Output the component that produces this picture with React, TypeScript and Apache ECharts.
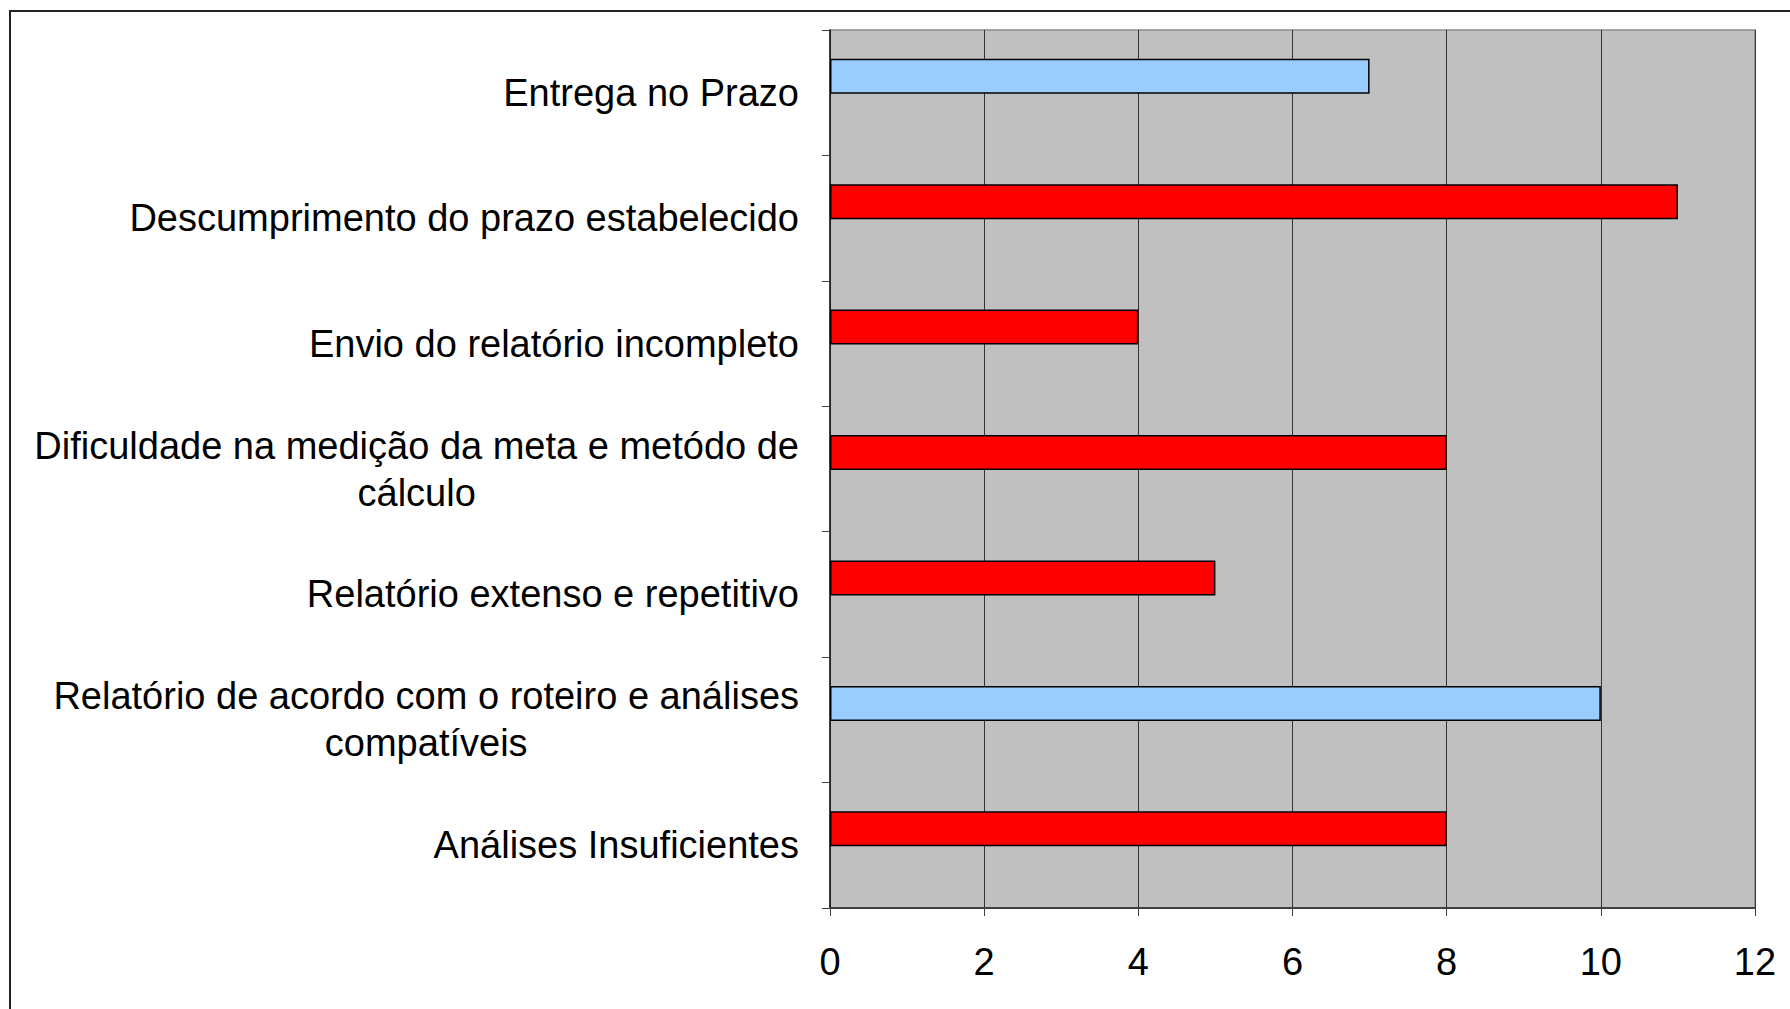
import React, { useEffect, useRef } from 'react';
import * as echarts from 'echarts';

const categories = [
  'Entrega no Prazo',
  'Descumprimento do prazo estabelecido',
  'Envio do relatório incompleto',
  'Dificuldade na medição da meta e metódo de\ncálculo',
  'Relatório extenso e repetitivo',
  'Relatório de acordo com o roteiro e análises\ncompatíveis',
  'Análises Insuficientes',
];
const values = [7, 11, 4, 8, 5, 10, 8];
const barColors = ['#99CCFF', '#FF0000', '#FF0000', '#FF0000', '#FF0000', '#99CCFF', '#FF0000'];
const emptySeries = categories.map(() => null);
const xMin = 0;
const xMax = 12;
const xStep = 2;

const FONT = '"Liberation Sans", Arial, sans-serif';
const FS = 38;
const LH = 47;

function measure(t: string): number {
  const ctx = document.createElement('canvas').getContext('2d');
  if (!ctx) return t.length * FS * 0.5;
  ctx.font = `${FS}px "Liberation Sans"`;
  return ctx.measureText(t).width;
}

export default function App() {
  const ref = useRef<HTMLDivElement>(null);
  useEffect(() => {
    if (!ref.current) return;
    const chart = echarts.init(ref.current, undefined, { renderer: 'svg' });
    const rich: Record<string, any> = {};
    categories.forEach((c, i) => {
      if (c.includes('\n')) {
        const lines = c.split('\n');
        const w = Math.max(...lines.map(measure));
        rich[`m${i}`] = {
          width: w,
          align: 'center',
          fontSize: FS,
          fontFamily: FONT,
          lineHeight: LH,
          color: '#000',
        };
      }
    });
    chart.setOption({
      animation: false,
      backgroundColor: '#ffffff',
      grid: {
        left: 830,
        top: 30,
        right: 35,
        bottom: 101,
        show: true,
        backgroundColor: '#C0C0C0',
        borderColor: '#8a8a8a',
        borderWidth: 1.5,
      },
      xAxis: {
        type: 'value',
        min: xMin,
        max: xMax,
        interval: xStep,
        axisLine: { show: true, lineStyle: { color: '#404040', width: 2 } },
        axisTick: { show: true, length: 8, lineStyle: { color: '#404040', width: 1 } },
        axisLabel: { fontSize: FS, fontFamily: FONT, color: '#000', margin: 35 },
        splitLine: { show: true, lineStyle: { color: '#333333', width: 1 } },
      },
      yAxis: {
        type: 'category',
        data: categories,
        inverse: true,
        axisLine: { show: true, lineStyle: { color: '#1a1a1a', width: 1.5 } },
        axisTick: { show: true, length: 8, lineStyle: { color: '#404040', width: 1 } },
        axisLabel: {
          fontSize: FS,
          fontFamily: FONT,
          color: '#000',
          margin: 31,
          lineHeight: LH,
          rich,
          formatter: (v: string, idx: number) => {
            if (v.includes('\n')) {
              return v
                .split('\n')
                .map((l) => `{m${idx}|${l}}`)
                .join('\n');
            }
            return v;
          },
        },
        splitLine: { show: false },
      },
      series: [
        {
          type: 'bar',
          barWidth: 35,
          barGap: '-6%',
          data: values.map((v, i) => ({
            value: v,
            itemStyle: { color: barColors[i] },
          })),
          itemStyle: { borderColor: '#000', borderWidth: 1.5 },
        },
        {
          type: 'bar',
          barWidth: 35,
          barGap: '-6%',
          data: emptySeries,
        },
      ],
      graphic: [
        {
          type: 'rect',
          shape: { x: 10, y: 11, width: 1820, height: 1040 },
          style: { fill: 'none', stroke: '#222222', lineWidth: 2 },
          silent: true,
        },
      ],
    });
    return () => chart.dispose();
  }, []);
  return (
    <div
      ref={ref}
      style={{ position: 'fixed', left: 0, top: 0, width: 1790, height: 1009, background: '#fff' }}
    />
  );
}
